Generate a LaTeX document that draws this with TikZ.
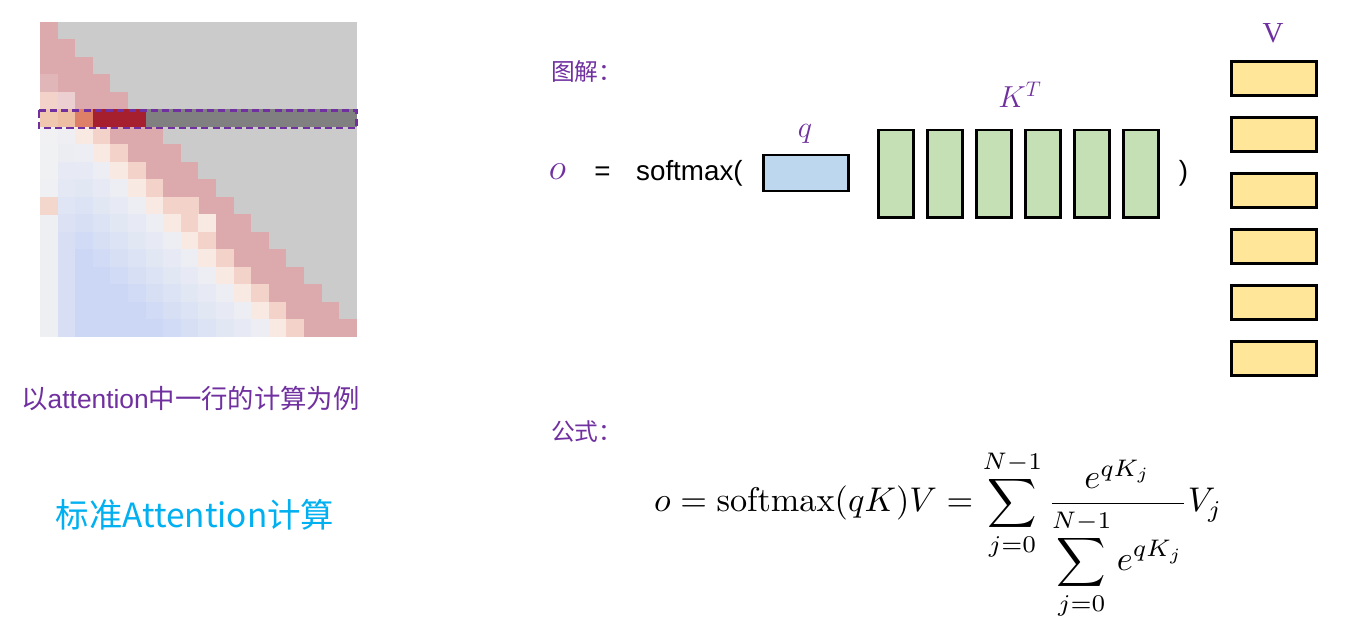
\documentclass[tikz,border=0pt]{standalone}
\usepackage{fontspec}
\newfontfamily\arial{Liberation Sans}
\newfontfamily\cjk{Noto Sans CJK SC}
\newfontfamily\serifv{Liberation Serif}
\usetikzlibrary{positioning}

\definecolor{labpurple}{HTML}{7030A0}
\definecolor{titleblue}{HTML}{00B0F0}
\definecolor{qblue}{HTML}{BDD7EE}
\definecolor{kgreen}{HTML}{C5E0B4}
\definecolor{vyellow}{HTML}{FFE699}
\definecolor{hmmask}{HTML}{CBCBCB}
\definecolor{hmdiag}{HTML}{DCA9AC}
\definecolor{hmlight}{HTML}{F3D3C9}
\definecolor{hmpale}{HTML}{F8E9E3}
\definecolor{hmwhite}{HTML}{F2F2F3}
\definecolor{hmblue}{HTML}{CCD7F5}
\definecolor{hmsalmon}{HTML}{F3D6CC}
\definecolor{rowgray}{HTML}{808080}
\definecolor{rowred}{HTML}{A51F2E}
\definecolor{roworange}{HTML}{DE8068}
\definecolor{rowpeach}{HTML}{EDBEA2}

\tikzstyle{qbox} = [rectangle, minimum width=1.7cm, minimum height=0.72cm, draw=black, line width=1.6pt, fill=qblue]
\tikzstyle{kbox} = [rectangle, minimum width=0.71cm, minimum height=1.75cm, draw=black, line width=1.6pt, fill=kgreen]
\tikzstyle{vbox} = [rectangle, minimum width=1.7cm, minimum height=0.68cm, draw=black, line width=1.6pt, fill=vyellow]
\tikzstyle{mlabel} = [text=labpurple, font=\fontsize{17.28}{20}\selectfont, anchor=base]
\tikzstyle{heading} = [text=labpurple, font=\cjk\fontsize{13.5}{16}\selectfont, anchor=west]
\tikzstyle{symtext} = [font=\arial\fontsize{15.8}{19}\selectfont, anchor=base]
\tikzstyle{rowmark} = [draw=labpurple, line width=1.6pt, dash pattern=on 4pt off 2.4pt]

\begin{document}
\begin{tikzpicture}[x=0.02cm, y=-0.02cm]
\useasboundingbox[fill=white] (0,0) rectangle (1350,641);

% attention heatmap, 18 x 18
\foreach \r in {0,...,17}{
  \foreach \c in {0,...,17}{
    \pgfmathtruncatemacro\d{\r-\c}
    \ifnum\d<0 \def\cc{hmmask}\else
     \ifnum\d<3 \def\cc{hmdiag}\else
      \ifnum\d=3 \def\cc{hmlight}\else
       \ifnum\d=4 \def\cc{hmpale}\else
        \pgfmathtruncatemacro\p{100*min(\d-4,7)/7*(\c==0 ? 0.1 : (\c==1 ? 0.7 : 1))}
        \edef\cc{hmblue!\p!hmwhite}
       \fi\fi\fi\fi
    \fill[\cc] (40+\c*17.6, 22+\r*17.5) rectangle ++(17.8,17.7);
  }
}
% a few cells by hand
\fill[hmdiag!85!white] (40,74.5) rectangle ++(17.8,17.7);
\fill[hmlight] (40,92) rectangle ++(17.8,17.7);
\fill[hmdiag!55!white] (57.6,92) rectangle ++(17.8,17.7);
\fill[hmsalmon] (40,197) rectangle ++(17.8,17.7);
\fill[hmlight] (180.8,197) rectangle ++(17.8,17.7);
\fill[hmpale] (198.4,214.5) rectangle ++(17.8,17.7);
% the row that is computed
\fill[rowpeach!85!white] (40,109.5) rectangle ++(17.8,17.7);
\fill[rowpeach] (57.6,109.5) rectangle ++(17.8,17.7);
\fill[roworange] (75.2,109.5) rectangle ++(17.8,17.7);
\fill[rowred] (92.8,109.5) rectangle (145.6,127);
\fill[rowgray] (145.6,109.5) rectangle (356.8,127);
\draw[rowmark] (39,110.5) rectangle (356.5,128);

\node[text=labpurple, font=\cjk\fontsize{15}{18}\selectfont] (rowtext) at (190.5,399) {以{\arial attention}中一行的计算为例};
\node[text=titleblue, font=\cjk\fontsize{19}{22}\selectfont] (title) at (195,515) {标准Attention计算};

% picture of the sum
\node[heading] (tujie) at (545,72) {图解：};
\node[mlabel, font=\fontsize{20.74}{24}\selectfont] (o) at (557.5,179.5) {$o$};
\node[symtext] (eq) at (602.5,181) {=};
\node[symtext, anchor=base west] (smax) at (630,181) {softmax(};
\node[qbox] (q) at (806,173) {};
\node[mlabel] (qlab) at (805,138) {$q$};
\foreach \i in {1,...,6}
  \node[kbox] (k\i) at (896+49*\i-49,173.7) {};
\node[mlabel] (ktlab) at (1020,108) {$K^T$};
\node[symtext] (close) at (1183.5,181) {)};
\foreach \i in {1,...,6}
  \node[vbox] (v\i) at (1274,78.7+56*\i-56) {};
\node[text=labpurple, font=\serifv\fontsize{16.5}{19}\selectfont, anchor=base] (vlab) at (1273,43) {V};

% formula
\node[heading] (gongshi) at (545,432) {公式：};
\node[anchor=base west] (formula) at (648,512)
  {\scalebox{1.95}{$\displaystyle o = \mathrm{softmax}(qK)V = \sum_{j=0}^{N-1}\frac{e^{qK_j}}{\displaystyle\sum_{j=0}^{N-1} e^{qK_j}}V_j$}};
\end{tikzpicture}
\end{document}
